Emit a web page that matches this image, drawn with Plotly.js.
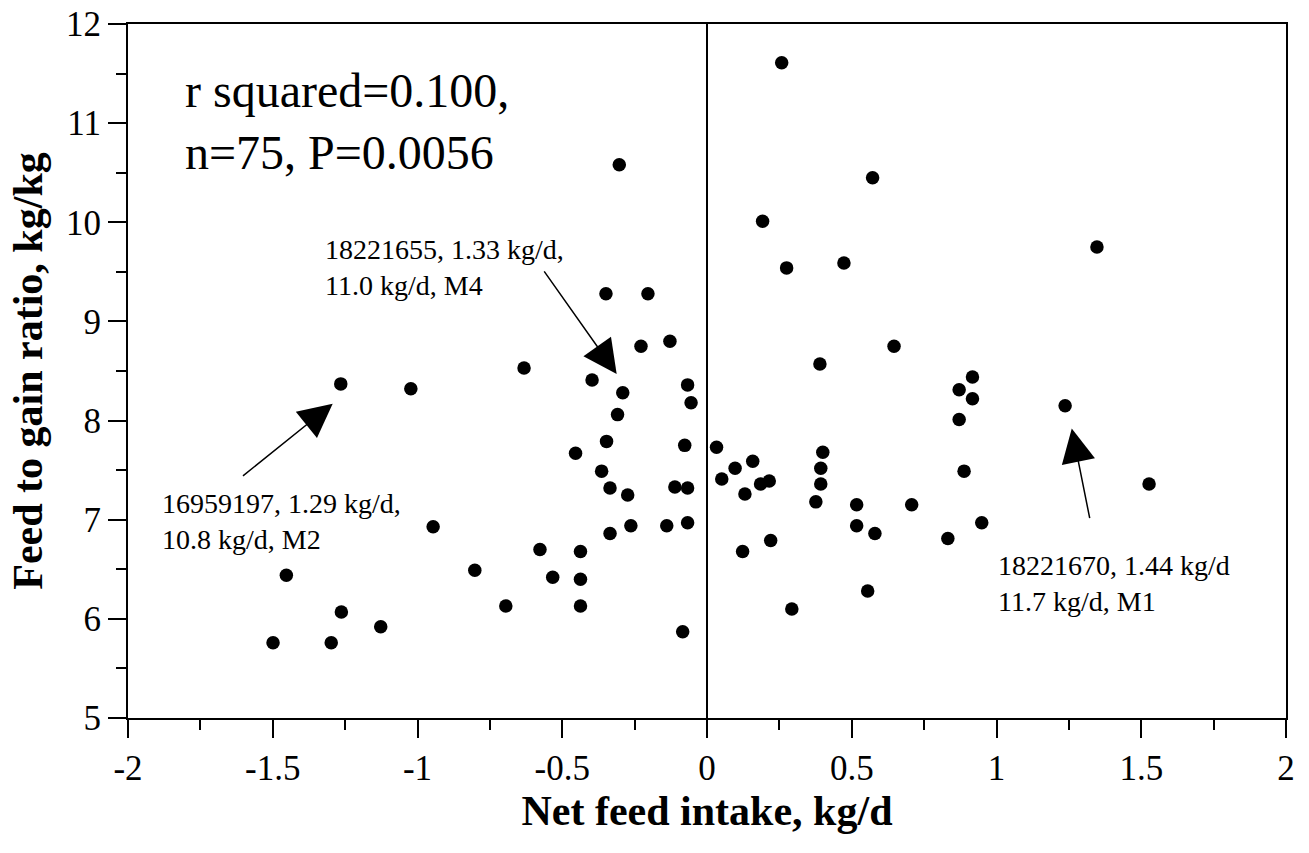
<!DOCTYPE html>
<html>
<head>
<meta charset="utf-8">
<script src="https://cdn.plot.ly/plotly-3.0.1.min.js"></script>
<style>html,body{margin:0;padding:0;background:#fff;}#chart{width:1309px;height:853px;}</style>
</head>
<body>
<div id="chart"></div>
<script>
// Net feed intake (kg/d)
const netFeedIntake = [
  -1.265, -1.023, -1.453, -1.263, -1.499, -1.298, -1.127, -0.946, -0.802, -0.632, -0.577, -0.533, -0.695,
  -0.303, -0.349, -0.204,
  -0.228, -0.128, -0.397, -0.291, -0.067, -0.055, -0.309, -0.347, -0.454, -0.077, -0.364, -0.335, -0.274, -0.111, -0.067,
  -0.263, -0.335, -0.139, -0.067, -0.437, -0.437, -0.437, -0.084,
  0.033, 0.097, 0.158, 0.051, 0.131, 0.185, 0.215, 0.400, 0.393, 0.393, 0.376, 0.517, 0.517, 0.220, 0.123, 0.293,
  0.646, 0.390, 0.917, 0.871, 0.917, 0.871, 0.888, 0.707, 0.580, 0.832, 0.949, 0.555,
  0.258, 0.572, 0.192, 0.275, 0.473,
  1.347, 1.237, 1.527
];
// Feed to gain ratio (kg/kg)
const feedToGain = [
  8.37, 8.32, 6.44, 6.07, 5.76, 5.76, 5.92, 6.93, 6.49, 8.53, 6.70, 6.42, 6.13,
  10.58, 9.28, 9.28,
  8.75, 8.80, 8.41, 8.28, 8.36, 8.18, 8.06, 7.79, 7.67, 7.75, 7.49, 7.32, 7.25, 7.33, 7.32,
  6.94, 6.86, 6.94, 6.97, 6.68, 6.40, 6.13, 5.87,
  7.73, 7.52, 7.59, 7.41, 7.26, 7.36, 7.39, 7.68, 7.52, 7.36, 7.18, 7.15, 6.94, 6.79, 6.68, 6.10,
  8.75, 8.57, 8.44, 8.31, 8.22, 8.01, 7.49, 7.15, 6.86, 6.81, 6.97, 6.28,
  11.61, 10.45, 10.01, 9.54, 9.59,
  9.75, 8.15, 7.36
];
const xTickVals = [-2, -1.5, -1, -0.5, 0, 0.5, 1, 1.5, 2];
const xTickText = ['-2', '-1.5', '-1', '-0.5', '0', '0.5', '1', '1.5', '2'];
const yTickVals = [5, 6, 7, 8, 9, 10, 11, 12];
const yTickText = ['5', '6', '7', '8', '9', '10', '11', '12'];

const statsText = 'r squared=0.100,<br>n=75, P=0.0056';
const labelM4 = '18221655, 1.33 kg/d,<br>11.0 kg/d, M4';
const labelM2 = '16959197, 1.29 kg/d,<br>10.8 kg/d, M2';
const labelM1 = '18221670, 1.44 kg/d<br>11.7 kg/d, M1';

const serif = '"Liberation Serif", "Times New Roman", serif';

const trace = {
  type: 'scatter', mode: 'markers',
  x: netFeedIntake, y: feedToGain,
  marker: {color: '#000', size: 13.5, line: {width: 0}},
  hoverinfo: 'x+y', showlegend: false
};

function arrow(x, y, ax, ay) {
  return {x: x, y: y, ax: ax, ay: ay, xref: 'x', yref: 'y', axref: 'x', ayref: 'y',
    text: '', showarrow: true, arrowhead: 2, arrowsize: 4.5, arrowwidth: 1.5, arrowcolor: '#000'};
}
function label(x, y, text, size) {
  return {x: x, y: y, xref: 'x', yref: 'y', text: text, showarrow: false,
    xanchor: 'left', yanchor: 'middle', align: 'left',
    font: {family: serif, size: size, color: '#000'}};
}

const layout = {
  width: 1309, height: 853,
  margin: {l: 128, r: 23, t: 23.5, b: 134.7},
  paper_bgcolor: '#fff', plot_bgcolor: '#fff',
  font: {family: serif, color: '#000'},
  xaxis: {
    range: [-2, 2], tickvals: xTickVals, ticktext: xTickText,
    ticks: 'outside', ticklen: 18, tickwidth: 2, tickcolor: '#000',
    minor: {dtick: 0.25, tick0: 0, ticks: 'outside', ticklen: 10, tickwidth: 2, tickcolor: '#000', showgrid: false},
    showline: true, linewidth: 2, linecolor: '#000', mirror: true,
    showgrid: false, zeroline: true, zerolinecolor: '#000', zerolinewidth: 1.5,
    tickfont: {family: serif, size: 35, color: '#000'},
    title: {text: '<b>Net feed intake, kg/d</b>', font: {family: serif, size: 42, color: '#000'}, standoff: 0},
    fixedrange: true
  },
  yaxis: {
    range: [5, 12], tickvals: yTickVals, ticktext: yTickText,
    ticks: 'outside', ticklen: 18, tickwidth: 2, tickcolor: '#000',
    minor: {dtick: 0.5, tick0: 5, ticks: 'outside', ticklen: 10, tickwidth: 2, tickcolor: '#000', showgrid: false},
    showline: true, linewidth: 2, linecolor: '#000', mirror: true,
    showgrid: false, zeroline: false,
    tickfont: {family: serif, size: 35, color: '#000'},
    title: {text: '<b>Feed to gain ratio, kg/kg</b>', font: {family: serif, size: 42, color: '#000'}, standoff: 10},
    fixedrange: true
  },
  annotations: [
    label(-1.811, 11.02, statsText, 48),
    label(-1.327, 9.54, labelM4, 28),
    label(-1.890, 6.98, labelM2, 28),
    label(0.999, 6.36, labelM1, 28),
    arrow(-0.312, 8.47, -0.566, 9.52),
    arrow(-1.293, 8.17, -1.608, 7.43),
    arrow(1.260, 7.92, 1.323, 7.00)
  ]
};

Plotly.newPlot('chart', [trace], layout, {displayModeBar: false, staticPlot: true});
</script>
</body>
</html>
